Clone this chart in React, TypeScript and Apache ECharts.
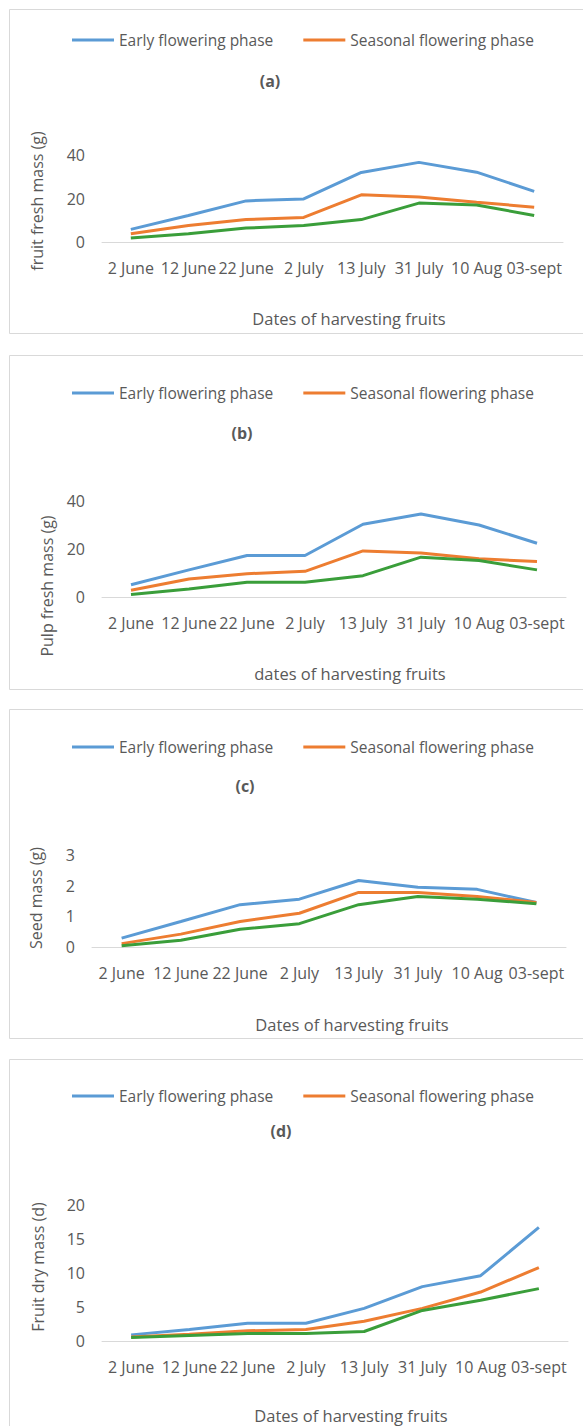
import React, { useEffect, useRef } from "react";
import * as echarts from "echarts";

const categories = ["2 June", "12 June", "22 June", "2 July", "13 July", "31 July", "10 Aug", "03-sept"];
const legendNames = ["Early flowering phase", "Seasonal flowering phase"];
const thirdName = "Series3";

const fruitFreshEarly = [5.8, 12.2, 18.9, 19.8, 32, 36.6, 32.1, 23.3];
const fruitFreshSeasonal = [3.8, 7.6, 10.3, 11.3, 21.7, 20.7, 18.3, 16];
const fruitFreshThird = [1.8, 3.8, 6.4, 7.6, 10.3, 17.9, 17, 12.2];

const pulpEarly = [5.1, 11.3, 17.3, 17.3, 30.3, 34.6, 30, 22.4];
const pulpSeasonal = [2.8, 7.5, 9.7, 10.7, 19.2, 18.3, 15.9, 14.8];
const pulpThird = [1, 3.3, 6.1, 6.1, 8.9, 16.6, 15.2, 11.3];

const seedEarly = [0.29, 0.83, 1.38, 1.56, 2.17, 1.95, 1.88, 1.45];
const seedSeasonal = [0.11, 0.42, 0.83, 1.1, 1.78, 1.78, 1.65, 1.45];
const seedThird = [0.04, 0.22, 0.58, 0.76, 1.38, 1.65, 1.56, 1.41];

const dryEarly = [0.9, 1.7, 2.6, 2.6, 4.8, 8.0, 9.6, 16.7];
const drySeasonal = [0.6, 1.0, 1.5, 1.7, 2.9, 4.8, 7.2, 10.8];
const dryThird = [0.5, 0.8, 1.1, 1.1, 1.4, 4.5, 6.0, 7.7];

const panelLabels = ["(a)", "(b)", "(c)", "(d)"];
const yTitles = ["fruit fresh mass (g)", "Pulp fresh mass (g)", "Seed mass (g)", "Fruit dry mass (d)"];
const xTitles = ["Dates of harvesting fruits", "dates of harvesting fruits", "Dates of harvesting fruits", "Dates of harvesting fruits"];
const yMax = [40, 40, 3, 20];
const yInterval = [20, 20, 1, 5];

const COLORS = ["#5B9BD5", "#ED7D31", "#3A9E3A"];
const FONT = "'Open Sans', sans-serif";
const TEXT = "#595959";

// layout (pixels)
const panels = [
  { box: [9.5, 9.5, 640, 324], grid: { left: 102, width: 461, top: 155, height: 87 }, legendY: 35, label: [270, 81], yTitle: [37, 201], xTitle: [349, 318] },
  { box: [9.5, 355.5, 640, 334], grid: { left: 102, width: 464, top: 501, height: 96 }, legendY: 388, label: [242, 433], yTitle: [47, 586], xTitle: [350, 673] },
  { box: [9.5, 709.5, 640, 329], grid: { left: 92, width: 474, top: 855, height: 92 }, legendY: 742, label: [245, 786], yTitle: [36, 898], xTitle: [352, 1024] },
  { box: [9.5, 1059.5, 640, 500], grid: { left: 102, width: 466, top: 1205, height: 136 }, legendY: 1091, label: [281, 1131], yTitle: [38, 1267], xTitle: [351, 1415] },
];

const seriesData = [
  [fruitFreshEarly, fruitFreshSeasonal, fruitFreshThird],
  [pulpEarly, pulpSeasonal, pulpThird],
  [seedEarly, seedSeasonal, seedThird],
  [dryEarly, drySeasonal, dryThird],
];

export default function App() {
  const ref = useRef<HTMLDivElement>(null);
  useEffect(() => {
    if (!ref.current) return;
    const chart = echarts.init(ref.current, null, { renderer: "svg" });
    const graphic: any[] = [];
    panels.forEach((p, i) => {
      graphic.push({
        type: "rect",
        shape: { x: p.box[0], y: p.box[1], width: p.box[2], height: p.box[3] },
        style: { fill: "none", stroke: "#D9D9D9", lineWidth: 1 },
        silent: true,
        z: 0,
      });
      graphic.push({
        type: "text",
        x: p.label[0],
        y: p.label[1],
        style: { text: panelLabels[i], fill: TEXT, font: `bold 16px ${FONT}`, align: "center", verticalAlign: "middle" },
      });
      graphic.push({
        type: "text",
        x: p.yTitle[0],
        y: p.yTitle[1],
        rotation: Math.PI / 2,
        style: { text: yTitles[i], fill: TEXT, font: `16px ${FONT}`, align: "center", verticalAlign: "middle" },
      });
      graphic.push({
        type: "text",
        x: p.xTitle[0],
        y: p.xTitle[1],
        style: { text: xTitles[i], fill: TEXT, font: `16.5px ${FONT}`, align: "center", verticalAlign: "middle" },
      });
    });

    const series: any[] = [];
    seriesData.forEach((group, i) => {
      group.forEach((vals, j) => {
        series.push({
          type: "line",
          name: j < 2 ? legendNames[j] : thirdName,
          xAxisIndex: i,
          yAxisIndex: i,
          data: vals,
          symbol: "none",
          lineStyle: { width: 3, color: COLORS[j] },
          itemStyle: { color: COLORS[j] },
          z: 2 + j,
        });
      });
    });

    chart.setOption({
      animation: false,
      textStyle: { fontFamily: FONT },
      legend: panels.map((p) => ({
        data: legendNames,
        left: 67,
        top: p.legendY - 9,
        itemWidth: 42,
        itemHeight: 18,
        itemGap: 30,
        icon: "path://M0,0 L42,0 L42,3 L0,3 Z",
        textStyle: { color: TEXT, fontSize: 15.5, fontFamily: FONT, lineHeight: 18 },
        selectedMode: false,
      })),
      grid: panels.map((p) => ({ ...p.grid, containLabel: false })),
      xAxis: panels.map((_, i) => ({
        type: "category",
        gridIndex: i,
        data: categories,
        boundaryGap: true,
        axisLine: { lineStyle: { color: "#D9D9D9", width: 1 } },
        axisTick: { show: false },
        axisLabel: { interval: 0, color: TEXT, fontSize: 16, fontFamily: FONT, margin: 17, lineHeight: 18 },
        splitLine: { show: false },
      })),
      yAxis: panels.map((_, i) => ({
        type: "value",
        gridIndex: i,
        min: 0,
        max: yMax[i],
        interval: yInterval[i],
        axisLine: { show: false },
        axisTick: { show: false },
        splitLine: { show: false },
        axisLabel: { color: TEXT, fontSize: 16, fontFamily: FONT, margin: 17 },
      })),
      graphic,
      series,
    });
    return () => chart.dispose();
  }, []);
  return (
    <div
      ref={ref}
      style={{ position: "absolute", left: 0, top: 0, width: 583, height: 1426, background: "#fff" }}
    />
  );
}
